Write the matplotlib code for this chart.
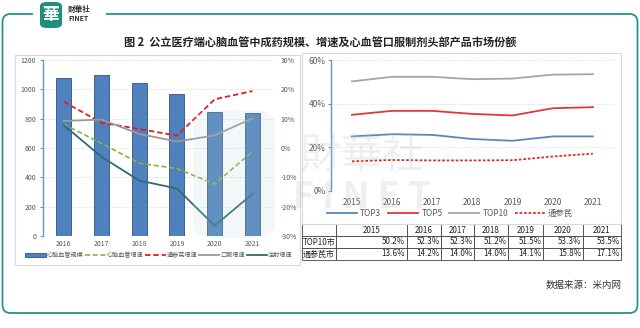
import matplotlib
matplotlib.use("Agg")
import matplotlib.pyplot as plt
from matplotlib.patches import FancyBboxPatch, Rectangle, Patch
from matplotlib.lines import Line2D
from matplotlib.path import Path
from matplotlib.patches import PathPatch
import numpy as np

plt.rcParams['font.family'] = ['Noto Sans CJK SC', 'DejaVu Sans']

# ---------------- data ----------------
years_left = ['2016', '2017', '2018', '2019', '2020', '2021']
scale = [1080, 1100, 1045, 970, 848, 836]             # 心脑血管规模
growth_cv = [8.1, 1.6, -5.2, -7.0, -12.3, -1.2]       # 心脑血管增速 %
growth_tsq = [15.8, 8.6, 6.5, 4.2, 16.6, 19.4]        # 通参芪增速 %
growth_oral = [9.2, 9.7, 4.8, 2.2, 4.3, 10.1]         # 口服增速 %
growth_inj = [7.8, -3.0, -11.1, -13.8, -26.5, -15.7]  # 注射增速 %

years_right = ['2015', '2016', '2017', '2018', '2019', '2020', '2021']
top3 = [25.0, 26.0, 25.7, 23.8, 23.0, 25.0, 25.0]
top5 = [34.9, 36.7, 36.7, 35.3, 34.6, 37.9, 38.4]
top10 = [50.2, 52.3, 52.3, 51.2, 51.5, 53.3, 53.5]
tsq_share = [13.6, 14.2, 14.0, 14.0, 14.1, 15.8, 17.1]

row_labels = ['TOP10市', '通参芪市']

W, H = 640, 328
fig = plt.figure(figsize=(W / 100, H / 100), dpi=100)
fig.patch.set_facecolor('white')

def fx(x):
    return x / W

def fy(y):
    return 1 - y / H

def ax_rect(x0, y0, x1, y1):
    return [fx(x0), fy(y1), fx(x1) - fx(x0), fy(y0) - fy(y1)]

teal = '#23958a'
grey_txt = '#595959'

# ---------------- frame ----------------
r = 8
x0, y0, x1, y1 = 2.5, 14, 637.5, 313
verts = [
    (fx(33), fy(y0)), (fx(x0 + r), fy(y0)),
    (fx(x0), fy(y0)), (fx(x0), fy(y0 + r)),
    (fx(x0), fy(y1 - r)),
    (fx(x0), fy(y1)), (fx(x0 + r), fy(y1)),
    (fx(x1 - r), fy(y1)),
    (fx(x1), fy(y1)), (fx(x1), fy(y1 - r)),
    (fx(x1), fy(y0 + r)),
    (fx(x1), fy(y0)), (fx(x1 - r), fy(y0)),
    (fx(106), fy(y0)),
]
codes = [Path.MOVETO, Path.LINETO,
         Path.CURVE3, Path.CURVE3,
         Path.LINETO,
         Path.CURVE3, Path.CURVE3,
         Path.LINETO,
         Path.CURVE3, Path.CURVE3,
         Path.LINETO,
         Path.CURVE3, Path.CURVE3,
         Path.LINETO]
fig.patches.append(PathPatch(Path(verts, codes), transform=fig.transFigure,
                             fill=False, edgecolor=teal, lw=1.3))

# logo
fig.patches.append(FancyBboxPatch((fx(40), fy(28)), fx(22), fy(2) - fy(28),
                                  boxstyle='round,pad=0,rounding_size=0.012',
                                  transform=fig.transFigure, facecolor='#1f8f7d',
                                  edgecolor='none'))
fig.text(fx(51), fy(15), '華', color='white', fontsize=12, fontweight='bold',
         ha='center', va='center')
fig.text(fx(68), fy(9.5), '財華社', color='#333333', fontsize=5.5, fontweight='bold',
         ha='left', va='center')
fig.text(fx(68), fy(18.5), 'FINET', color='#333333', fontsize=5, fontweight='bold',
         ha='left', va='center')

# title
fig.text(fx(320), fy(43), '图 2  公立医疗端心脑血管中成药规模、增速及心血管口服制剂头部产品市场份额',
         fontsize=8, fontweight='bold', ha='center', va='center', color='#222222')

# panel boxes
fig.patches.append(Rectangle((fx(15), fy(265)), fx(300) - fx(15), fy(55) - fy(265),
                             transform=fig.transFigure, fill=False,
                             edgecolor='#d9d9d9', lw=0.8))
fig.patches.append(Rectangle((fx(302), fy(224)), fx(621) - fx(302), fy(53) - fy(224),
                             transform=fig.transFigure, fill=False,
                             edgecolor='#d9d9d9', lw=0.8))

# faint teal logo watermark in left chart
fig.patches.append(FancyBboxPatch((fx(193), fy(238)), fx(82), fy(110) - fy(238),
                                  boxstyle='round,pad=0,rounding_size=0.04',
                                  transform=fig.transFigure, facecolor='#b9ddd6',
                                  edgecolor='none', alpha=0.18, zorder=5))

# ---------------- left chart ----------------
axL = fig.add_axes(ax_rect(43, 60, 275, 236))
xl = np.arange(len(years_left))
axL.bar(xl, scale, width=0.4, color='#4f81bd', edgecolor='#2f5182', lw=0.6, zorder=2)
axL.set_ylim(0, 1200)
axL.set_yticks(np.arange(0, 1201, 200))
axL.set_xlim(-0.55, 5.6)
axL.set_xticks(xl)
axL.set_xticklabels(years_left)
axL.yaxis.grid(True, color='#d0d0d0', ls=':', lw=0.6)
axL.set_axisbelow(True)
for s in ['top', 'right', 'bottom']:
    axL.spines[s].set_visible(False)
axL.spines['left'].set_color('#5b9bd5')
axL.spines['left'].set_linewidth(1.0)
axL.tick_params(axis='both', labelsize=5, colors=grey_txt, length=0, pad=3)
axL.tick_params(axis='y', length=2, color='#5b9bd5')

axR = axL.twinx()
axR.set_ylim(-30, 30)
axR.set_yticks(np.arange(-30, 31, 10))
axR.set_yticklabels([f'{v}%' for v in range(-30, 31, 10)])
for s in ['top', 'right', 'bottom', 'left']:
    axR.spines[s].set_visible(False)
axR.tick_params(axis='y', labelsize=5, colors=grey_txt, length=0, pad=4)
axR.plot(xl, growth_cv, color='#8db04b', ls=(0, (3, 1.6)), lw=1.2, zorder=3)
axR.plot(xl, growth_tsq, color='#e02020', ls=(0, (3, 1.6)), lw=1.3, zorder=3)
axR.plot(xl, growth_oral, color='#9a9a9a', lw=1.3, zorder=3)
axR.plot(xl, growth_inj, color='#2e6b74', lw=1.3, zorder=3)

handlesL = [
    Patch(facecolor='#4f81bd', edgecolor='#2f5182', lw=0.6),
    Line2D([], [], color='#8db04b', ls=(0, (3, 1.6)), lw=1.2),
    Line2D([], [], color='#e02020', ls=(0, (3, 1.6)), lw=1.3),
    Line2D([], [], color='#9a9a9a', lw=1.3),
    Line2D([], [], color='#2e6b74', lw=1.3),
]
labelsL = ['心脑血管规模', '心脑血管增速', '通参芪增速', '口服增速', '注射增速']
fig.legend(handlesL, labelsL, loc='center', bbox_to_anchor=(fx(159), fy(255)),
           ncol=5, fontsize=4.4, frameon=False, handlelength=3.3, handleheight=0.6,
           handletextpad=0.15, columnspacing=0.35, labelcolor=grey_txt)

# ---------------- right chart ----------------
ax2 = fig.add_axes(ax_rect(331, 60, 613, 191))
xr = np.arange(len(years_right))
ax2.plot(xr, top3, color='#5b86c0', lw=1.3, label='TOP3')
ax2.plot(xr, top5, color='#e0383b', lw=1.3, label='TOP5')
ax2.plot(xr, top10, color='#a5a5a5', lw=1.3, label='TOP10')
ax2.plot(xr, tsq_share, color='#d9302c', ls=(0, (1.5, 1)), lw=1.3, label='通参芪')
ax2.set_ylim(0, 60)
ax2.set_yticks([0, 20, 40, 60])
ax2.set_yticklabels(['0%', '20%', '40%', '60%'])
ax2.set_xlim(-0.52, 6.5)
ax2.set_xticks(xr)
ax2.set_xticklabels(years_right)
ax2.yaxis.grid(True, color='#d0d0d0', ls=':', lw=0.6)
for s in ['top', 'right', 'bottom']:
    ax2.spines[s].set_visible(False)
ax2.spines['left'].set_color('#5b9bd5')
ax2.spines['left'].set_linewidth(1.0)
ax2.tick_params(axis='both', labelsize=6, colors=grey_txt, length=0, pad=5)
ax2.tick_params(axis='y', length=2, color='#5b9bd5', pad=2)
ax2.legend(loc='center', bbox_to_anchor=(fx(450) / 1, fy(213)), bbox_transform=fig.transFigure,
           ncol=4, fontsize=6, frameon=False, handlelength=3.6, handletextpad=0.4,
           columnspacing=0.8, labelcolor=grey_txt)

# ---------------- table ----------------
axT = fig.add_axes(ax_rect(302, 224, 621, 260))
axT.axis('off')
cell_text = [[''] + years_right,
             [row_labels[0]] + [f'{v:.1f}%' for v in top10],
             [row_labels[1]] + [f'{v:.1f}%' for v in tsq_share]]
colw = np.array([34, 71, 34, 33, 34, 35, 40, 38], dtype=float)
colw = colw / colw.sum()
tbl = axT.table(cellText=cell_text, colWidths=list(colw), bbox=[0, 0, 1, 1],
                cellLoc='center')
tbl.auto_set_font_size(False)
for (ri, ci), cell in tbl.get_celld().items():
    cell.set_edgecolor('#444444')
    cell.set_linewidth(0.6)
    cell.get_text().set_fontsize(5.8)
    cell.get_text().set_color('#222222')
    cell.PAD = 0.03
    if ri == 0:
        cell.get_text().set_ha('center')
    elif ci == 0:
        cell._loc = 'left'
        cell.get_text().set_ha('left')
    else:
        cell._loc = 'right'
        cell.get_text().set_ha('right')

# source
fig.text(fx(622), fy(285), '数据来源：米内网', fontsize=6.8, ha='right', va='center',
         color='#333333')

# watermark
fig.text(fx(362), fy(156), '財華社', fontsize=30, color='#c8c8c8', alpha=0.28,
         ha='center', va='center', zorder=10)
fig.text(fx(362), fy(197), 'F I N E T', fontsize=26, color='#c8c8c8', alpha=0.28,
         ha='center', va='center', zorder=10, fontweight='bold')

fig.savefig('out.png', dpi=100, facecolor='white')
